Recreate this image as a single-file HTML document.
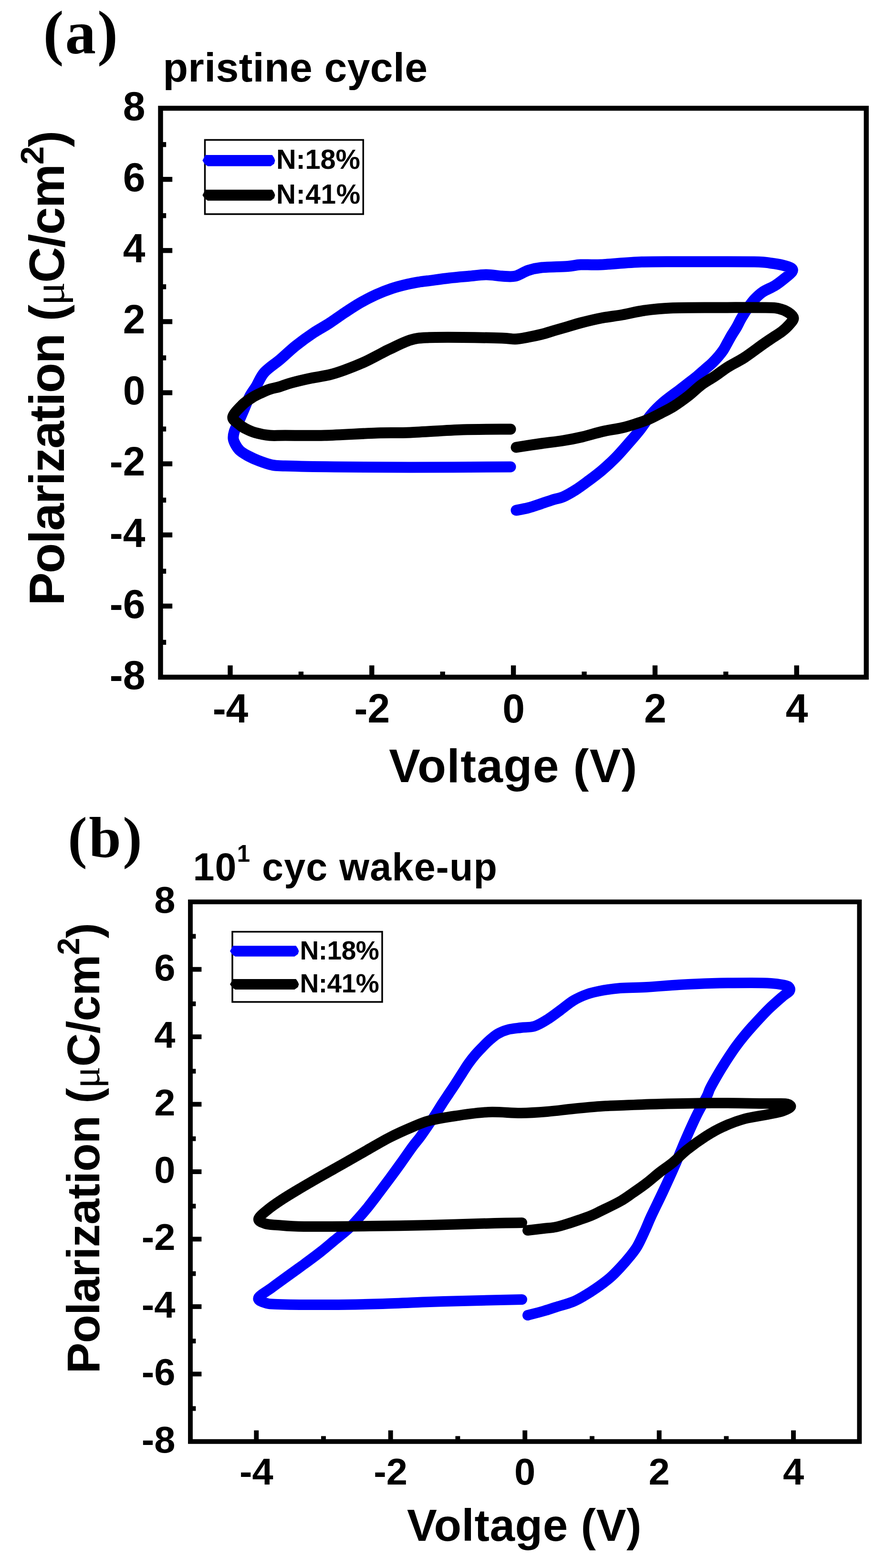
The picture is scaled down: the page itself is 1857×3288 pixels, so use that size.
<!DOCTYPE html>
<html><head><meta charset="utf-8"><title>Polarization vs Voltage</title>
<style>html,body{margin:0;padding:0;background:#fff;width:1857px;height:3288px;overflow:hidden}svg{display:block}</style>
</head><body>
<svg width="1857" height="3288" viewBox="0 0 1857 3288">
<style>.tl{font-family:"Liberation Sans", Arial, sans-serif;font-weight:bold;fill:#000} .sr{font-family:"Liberation Serif", "Times New Roman", serif;font-weight:bold;fill:#000} .mu{font-family:"Liberation Serif", "Times New Roman", serif;font-weight:normal}</style>
<rect width="1857" height="3288" fill="#fff"/>
<rect x="336.5" y="227.0" width="1479.2" height="1193.0" fill="none" stroke="#000" stroke-width="10.4" stroke-linejoin="miter"/>
<line x1="336.5" y1="1346.9" x2="348.2" y2="1346.9" stroke="#000" stroke-width="10.4"/>
<line x1="336.5" y1="1270.9" x2="361.2" y2="1270.9" stroke="#000" stroke-width="10.4"/>
<line x1="336.5" y1="1197.8" x2="348.2" y2="1197.8" stroke="#000" stroke-width="10.4"/>
<line x1="336.5" y1="1121.7" x2="361.2" y2="1121.7" stroke="#000" stroke-width="10.4"/>
<line x1="336.5" y1="1048.7" x2="348.2" y2="1048.7" stroke="#000" stroke-width="10.4"/>
<line x1="336.5" y1="972.6" x2="361.2" y2="972.6" stroke="#000" stroke-width="10.4"/>
<line x1="336.5" y1="899.6" x2="348.2" y2="899.6" stroke="#000" stroke-width="10.4"/>
<line x1="336.5" y1="823.5" x2="361.2" y2="823.5" stroke="#000" stroke-width="10.4"/>
<line x1="336.5" y1="750.4" x2="348.2" y2="750.4" stroke="#000" stroke-width="10.4"/>
<line x1="336.5" y1="674.4" x2="361.2" y2="674.4" stroke="#000" stroke-width="10.4"/>
<line x1="336.5" y1="601.3" x2="348.2" y2="601.3" stroke="#000" stroke-width="10.4"/>
<line x1="336.5" y1="525.3" x2="361.2" y2="525.3" stroke="#000" stroke-width="10.4"/>
<line x1="336.5" y1="452.2" x2="348.2" y2="452.2" stroke="#000" stroke-width="10.4"/>
<line x1="336.5" y1="376.1" x2="361.2" y2="376.1" stroke="#000" stroke-width="10.4"/>
<line x1="336.5" y1="303.1" x2="348.2" y2="303.1" stroke="#000" stroke-width="10.4"/>
<line x1="482.5" y1="1420.0" x2="482.5" y2="1395.3" stroke="#000" stroke-width="10.4"/>
<line x1="630.9" y1="1420.0" x2="630.9" y2="1408.3" stroke="#000" stroke-width="10.4"/>
<line x1="779.3" y1="1420.0" x2="779.3" y2="1395.3" stroke="#000" stroke-width="10.4"/>
<line x1="927.7" y1="1420.0" x2="927.7" y2="1408.3" stroke="#000" stroke-width="10.4"/>
<line x1="1076.1" y1="1420.0" x2="1076.1" y2="1395.3" stroke="#000" stroke-width="10.4"/>
<line x1="1224.5" y1="1420.0" x2="1224.5" y2="1408.3" stroke="#000" stroke-width="10.4"/>
<line x1="1372.9" y1="1420.0" x2="1372.9" y2="1395.3" stroke="#000" stroke-width="10.4"/>
<line x1="1521.3" y1="1420.0" x2="1521.3" y2="1408.3" stroke="#000" stroke-width="10.4"/>
<line x1="1669.7" y1="1420.0" x2="1669.7" y2="1395.3" stroke="#000" stroke-width="10.4"/>
<text transform="translate(304.5,1444.8) scale(1,1.02)" text-anchor="end" class="tl" style="font-size:84px">-8</text>
<text transform="translate(304.5,1295.7) scale(1,1.02)" text-anchor="end" class="tl" style="font-size:84px">-6</text>
<text transform="translate(304.5,1146.5) scale(1,1.02)" text-anchor="end" class="tl" style="font-size:84px">-4</text>
<text transform="translate(304.5,997.4) scale(1,1.02)" text-anchor="end" class="tl" style="font-size:84px">-2</text>
<text transform="translate(304.5,848.3) scale(1,1.02)" text-anchor="end" class="tl" style="font-size:84px">0</text>
<text transform="translate(304.5,699.2) scale(1,1.02)" text-anchor="end" class="tl" style="font-size:84px">2</text>
<text transform="translate(304.5,550.1) scale(1,1.02)" text-anchor="end" class="tl" style="font-size:84px">4</text>
<text transform="translate(304.5,400.9) scale(1,1.02)" text-anchor="end" class="tl" style="font-size:84px">6</text>
<text transform="translate(304.5,251.8) scale(1,1.02)" text-anchor="end" class="tl" style="font-size:84px">8</text>
<text transform="translate(483.0,1514.8) scale(1,1.02)" text-anchor="middle" class="tl" style="font-size:84px">-4</text>
<text transform="translate(779.8,1514.8) scale(1,1.02)" text-anchor="middle" class="tl" style="font-size:84px">-2</text>
<text transform="translate(1076.6,1514.8) scale(1,1.02)" text-anchor="middle" class="tl" style="font-size:84px">0</text>
<text transform="translate(1373.4,1514.8) scale(1,1.02)" text-anchor="middle" class="tl" style="font-size:84px">2</text>
<text transform="translate(1670.2,1514.8) scale(1,1.02)" text-anchor="middle" class="tl" style="font-size:84px">4</text>
<path d="M1082.0,1070.0 C1086.2,1069.2 1098.2,1067.3 1107.0,1065.0 C1115.8,1062.7 1125.8,1059.0 1135.0,1056.0 C1144.2,1053.0 1154.5,1049.3 1162.0,1047.0 C1169.5,1044.7 1172.5,1045.3 1180.0,1042.0 C1187.5,1038.7 1197.8,1032.8 1207.0,1027.0 C1216.2,1021.2 1225.8,1013.8 1235.0,1007.0 C1244.2,1000.2 1252.8,993.8 1262.0,986.0 C1271.2,978.2 1280.8,969.3 1290.0,960.0 C1299.2,950.7 1308.7,939.5 1317.0,930.0 C1325.3,920.5 1332.0,913.2 1340.0,903.0 C1348.0,892.8 1356.5,879.0 1365.0,869.0 C1373.5,859.0 1381.0,851.7 1391.0,843.0 C1401.0,834.3 1416.3,823.7 1425.0,817.0 C1433.7,810.3 1437.0,807.7 1443.0,803.0 C1449.0,798.3 1455.3,793.7 1461.0,789.0 C1466.7,784.3 1471.7,779.7 1477.0,775.0 C1482.3,770.3 1488.2,765.7 1493.0,761.0 C1497.8,756.3 1502.2,751.5 1506.0,747.0 C1509.8,742.5 1512.8,738.8 1516.0,734.0 C1519.2,729.2 1522.0,723.3 1525.0,718.0 C1528.0,712.7 1530.8,707.3 1534.0,702.0 C1537.2,696.7 1540.7,691.8 1544.0,686.0 C1547.3,680.2 1550.0,673.8 1554.0,667.0 C1558.0,660.2 1563.3,651.7 1568.0,645.0 C1572.7,638.3 1576.8,632.5 1582.0,627.0 C1587.2,621.5 1592.0,616.7 1599.0,612.0 C1606.0,607.3 1616.7,603.5 1624.0,599.0 C1631.3,594.5 1637.0,589.8 1643.0,585.0 C1649.0,580.2 1657.5,573.8 1660.0,570.0 C1662.5,566.2 1661.3,564.3 1658.0,562.0 C1654.7,559.7 1646.8,557.7 1640.0,556.0 C1633.2,554.3 1626.8,553.2 1617.0,552.0 C1607.2,550.8 1610.3,549.5 1581.0,549.0 C1551.7,548.5 1480.3,548.7 1441.0,548.7 C1401.7,548.8 1375.2,548.2 1345.0,549.3 C1314.8,550.3 1281.3,554.0 1260.0,555.0 C1238.7,556.0 1228.7,554.4 1217.0,555.0 C1205.3,555.6 1203.7,557.5 1190.0,558.5 C1176.3,559.5 1148.8,559.6 1135.0,561.0 C1121.2,562.4 1116.2,564.0 1107.0,567.0 C1097.8,570.0 1089.2,577.0 1080.0,579.0 C1070.8,581.0 1062.0,579.5 1052.0,579.0 C1042.0,578.5 1031.3,576.0 1020.0,576.0 C1008.7,576.0 997.0,577.8 984.0,579.0 C971.0,580.2 956.7,581.3 942.0,583.0 C927.3,584.7 906.3,587.7 896.0,589.0 C885.7,590.3 887.0,589.8 880.0,591.0 C873.0,592.2 863.8,593.7 854.0,596.0 C844.2,598.3 832.0,601.3 821.0,605.0 C810.0,608.7 799.0,613.0 788.0,618.0 C777.0,623.0 766.0,628.7 755.0,635.0 C744.0,641.3 732.8,648.8 722.0,656.0 C711.2,663.2 700.8,671.0 690.0,678.0 C679.2,685.0 668.7,690.2 657.0,698.0 C645.3,705.8 631.7,715.7 620.0,725.0 C608.3,734.3 598.0,744.7 587.0,754.0 C576.0,763.3 562.3,771.7 554.0,781.0 C545.7,790.3 542.2,801.5 537.0,810.0 C531.8,818.5 527.5,823.3 523.0,832.0 C518.5,840.7 513.8,853.2 510.0,862.0 C506.2,870.8 503.2,877.8 500.0,885.0 C496.8,892.2 492.8,899.2 491.0,905.0 C489.2,910.8 488.5,915.3 489.0,920.0 C489.5,924.7 491.7,928.8 494.0,933.0 C496.3,937.2 498.7,941.2 503.0,945.0 C507.3,948.8 513.5,952.5 520.0,956.0 C526.5,959.5 533.7,962.8 542.0,966.0 C550.3,969.2 560.7,973.2 570.0,975.0 C579.3,976.8 576.3,976.3 598.0,977.0 C619.7,977.7 656.3,978.5 700.0,979.0 C743.7,979.5 798.3,980.0 860.0,980.0 C921.7,980.0 1035.0,979.2 1070.0,979.0" fill="none" stroke="#0000ff" stroke-width="23" stroke-linejoin="round" stroke-linecap="round"/>
<path d="M1082.0,938.0 C1090.8,936.7 1118.7,932.3 1135.0,930.0 C1151.3,927.7 1165.7,926.3 1180.0,924.0 C1194.3,921.7 1207.3,919.2 1221.0,916.0 C1234.7,912.8 1248.2,908.2 1262.0,905.0 C1275.8,901.8 1291.8,899.8 1304.0,897.0 C1316.2,894.2 1325.7,891.0 1335.0,888.0 C1344.3,885.0 1351.5,882.7 1360.0,879.0 C1368.5,875.3 1377.3,870.5 1386.0,866.0 C1394.7,861.5 1402.5,858.0 1412.0,852.0 C1421.5,846.0 1433.3,837.5 1443.0,830.0 C1452.7,822.5 1460.8,813.8 1470.0,807.0 C1479.2,800.2 1488.8,795.2 1498.0,789.0 C1507.2,782.8 1514.7,776.5 1525.0,770.0 C1535.3,763.5 1547.7,758.0 1560.0,750.0 C1572.3,742.0 1589.3,728.8 1599.0,722.0 C1608.7,715.2 1611.3,713.5 1618.0,709.0 C1624.7,704.5 1633.0,699.7 1639.0,695.0 C1645.0,690.3 1650.0,685.7 1654.0,681.0 C1658.0,676.3 1663.3,671.3 1663.0,667.0 C1662.7,662.7 1657.2,658.3 1652.0,655.0 C1646.8,651.7 1639.8,648.7 1632.0,647.0 C1624.2,645.3 1626.7,645.3 1605.0,645.0 C1583.3,644.7 1535.3,644.8 1502.0,645.0 C1468.7,645.2 1430.2,645.0 1405.0,646.0 C1379.8,647.0 1367.7,648.7 1351.0,651.0 C1334.3,653.3 1320.2,657.3 1305.0,660.0 C1289.8,662.7 1274.7,664.2 1260.0,667.0 C1245.3,669.8 1228.7,674.0 1217.0,677.0 C1205.3,680.0 1199.2,682.3 1190.0,685.0 C1180.8,687.7 1171.2,690.3 1162.0,693.0 C1152.8,695.7 1144.2,698.7 1135.0,701.0 C1125.8,703.3 1116.2,705.3 1107.0,707.0 C1097.8,708.7 1089.2,710.7 1080.0,711.0 C1070.8,711.3 1070.3,709.6 1052.0,709.0 C1033.7,708.4 996.0,707.7 970.0,707.5 C944.0,707.3 914.3,707.1 896.0,708.0 C877.7,708.9 873.2,709.0 860.0,713.0 C846.8,717.0 826.2,727.8 817.0,732.0 C807.8,736.2 813.8,733.5 805.0,738.0 C796.2,742.5 777.8,752.7 764.0,759.0 C750.2,765.3 734.3,771.5 722.0,776.0 C709.7,780.5 701.7,783.2 690.0,786.0 C678.3,788.8 665.3,790.2 652.0,793.0 C638.7,795.8 621.0,800.0 610.0,803.0 C599.0,806.0 593.3,808.8 586.0,811.0 C578.7,813.2 572.5,813.8 566.0,816.0 C559.5,818.2 553.3,821.0 547.0,824.0 C540.7,827.0 534.5,829.8 528.0,834.0 C521.5,838.2 514.7,842.3 508.0,849.0 C501.3,855.7 489.3,867.3 488.0,874.0 C486.7,880.7 495.8,885.0 500.0,889.0 C504.2,893.0 507.3,895.0 513.0,898.0 C518.7,901.0 525.3,904.5 534.0,907.0 C542.7,909.5 554.3,912.0 565.0,913.0 C575.7,914.0 578.8,913.0 598.0,913.0 C617.2,913.0 648.0,913.8 680.0,913.0 C712.0,912.2 760.0,909.0 790.0,908.0 C820.0,907.0 830.0,908.2 860.0,907.0 C890.0,905.8 935.0,902.2 970.0,901.0 C1005.0,899.8 1053.3,900.2 1070.0,900.0" fill="none" stroke="#000" stroke-width="23" stroke-linejoin="round" stroke-linecap="round"/>
<rect x="429.5" y="293.4" width="331.8" height="155.6" fill="#fff" stroke="#000" stroke-width="3.5"/>
<polygon points="424.4,336.6 428.4,328.9 430.4,324.9 570.5,324.9 574.5,330.9 576.5,336.6 574.5,343.4 567.5,348.4 435.4,348.4 429.4,344.4" fill="#0000ff"/>
<polygon points="424.4,409.3 428.4,401.8 430.4,397.8 570.5,397.8 574.5,403.8 576.5,409.3 574.5,415.8 567.5,420.8 435.4,420.8 429.4,416.8" fill="#000"/>
<g transform="translate(-33.29,-17.75) scale(1.0519,1.0500)"><text x="582" y="354.5" class="tl" style="font-size:55px;letter-spacing:-0.18px">N:18%</text></g>
<g transform="translate(-22.08,-12.26) scale(1.0327,1.0289)"><text x="582" y="427" class="tl" style="font-size:55px;letter-spacing:0.65px">N:41%</text></g>
<g transform="translate(-4.41,-2.37) scale(1.0091,1.0026)"><text x="94" y="114" class="sr" style="font-size:128px;letter-spacing:2.96px">(a)</text></g>
<g transform="translate(5.08,2.24) scale(0.9778,0.9778)"><text x="344" y="172.5" class="tl" style="font-size:88px;letter-spacing:0.38px">pristine cycle</text></g>
<g transform="translate(16.00,27.67) scale(0.9832,0.9830)"><text x="813" y="1640" class="tl" style="font-size:100px;letter-spacing:1.41px">Voltage (V)</text></g>
<g transform="translate(-5.37,-19.02) scale(1.0207,1.0213)"><text transform="translate(137,1262) rotate(-90)" class="tl" style="font-size:102px;letter-spacing:-1.72px">Polarization (<tspan class="mu" style="font-size:90px">μ</tspan>C/cm<tspan dy="-43" style="font-size:68px">2</tspan><tspan dy="43">)</tspan></text></g>
<rect x="399.0" y="1891.2" width="1402.3" height="1131.6" fill="none" stroke="#000" stroke-width="9.9" stroke-linejoin="miter"/>
<line x1="399.0" y1="2953.6" x2="410.4" y2="2953.6" stroke="#000" stroke-width="9.9"/>
<line x1="399.0" y1="2881.3" x2="422.4" y2="2881.3" stroke="#000" stroke-width="9.9"/>
<line x1="399.0" y1="2812.1" x2="410.4" y2="2812.1" stroke="#000" stroke-width="9.9"/>
<line x1="399.0" y1="2739.9" x2="422.4" y2="2739.9" stroke="#000" stroke-width="9.9"/>
<line x1="399.0" y1="2670.7" x2="410.4" y2="2670.7" stroke="#000" stroke-width="9.9"/>
<line x1="399.0" y1="2598.4" x2="422.4" y2="2598.4" stroke="#000" stroke-width="9.9"/>
<line x1="399.0" y1="2529.2" x2="410.4" y2="2529.2" stroke="#000" stroke-width="9.9"/>
<line x1="399.0" y1="2457.0" x2="422.4" y2="2457.0" stroke="#000" stroke-width="9.9"/>
<line x1="399.0" y1="2387.8" x2="410.4" y2="2387.8" stroke="#000" stroke-width="9.9"/>
<line x1="399.0" y1="2315.6" x2="422.4" y2="2315.6" stroke="#000" stroke-width="9.9"/>
<line x1="399.0" y1="2246.3" x2="410.4" y2="2246.3" stroke="#000" stroke-width="9.9"/>
<line x1="399.0" y1="2174.1" x2="422.4" y2="2174.1" stroke="#000" stroke-width="9.9"/>
<line x1="399.0" y1="2104.9" x2="410.4" y2="2104.9" stroke="#000" stroke-width="9.9"/>
<line x1="399.0" y1="2032.7" x2="422.4" y2="2032.7" stroke="#000" stroke-width="9.9"/>
<line x1="399.0" y1="1963.4" x2="410.4" y2="1963.4" stroke="#000" stroke-width="9.9"/>
<line x1="537.3" y1="3022.8" x2="537.3" y2="2999.4" stroke="#000" stroke-width="9.9"/>
<line x1="678.0" y1="3022.8" x2="678.0" y2="3011.4" stroke="#000" stroke-width="9.9"/>
<line x1="818.7" y1="3022.8" x2="818.7" y2="2999.4" stroke="#000" stroke-width="9.9"/>
<line x1="959.4" y1="3022.8" x2="959.4" y2="3011.4" stroke="#000" stroke-width="9.9"/>
<line x1="1100.2" y1="3022.8" x2="1100.2" y2="2999.4" stroke="#000" stroke-width="9.9"/>
<line x1="1240.9" y1="3022.8" x2="1240.9" y2="3011.4" stroke="#000" stroke-width="9.9"/>
<line x1="1381.6" y1="3022.8" x2="1381.6" y2="2999.4" stroke="#000" stroke-width="9.9"/>
<line x1="1522.3" y1="3022.8" x2="1522.3" y2="3011.4" stroke="#000" stroke-width="9.9"/>
<line x1="1663.0" y1="3022.8" x2="1663.0" y2="2999.4" stroke="#000" stroke-width="9.9"/>
<text transform="translate(367.5,3045.7) scale(1,0.985)" text-anchor="end" class="tl" style="font-size:79.5px">-8</text>
<text transform="translate(367.5,2904.2) scale(1,0.985)" text-anchor="end" class="tl" style="font-size:79.5px">-6</text>
<text transform="translate(367.5,2762.8) scale(1,0.985)" text-anchor="end" class="tl" style="font-size:79.5px">-4</text>
<text transform="translate(367.5,2621.3) scale(1,0.985)" text-anchor="end" class="tl" style="font-size:79.5px">-2</text>
<text transform="translate(367.5,2479.9) scale(1,0.985)" text-anchor="end" class="tl" style="font-size:79.5px">0</text>
<text transform="translate(367.5,2338.5) scale(1,0.985)" text-anchor="end" class="tl" style="font-size:79.5px">2</text>
<text transform="translate(367.5,2197.0) scale(1,0.985)" text-anchor="end" class="tl" style="font-size:79.5px">4</text>
<text transform="translate(367.5,2055.6) scale(1,0.985)" text-anchor="end" class="tl" style="font-size:79.5px">6</text>
<text transform="translate(367.5,1914.1) scale(1,0.985)" text-anchor="end" class="tl" style="font-size:79.5px">8</text>
<text transform="translate(537.3,3112.8) scale(1,0.985)" text-anchor="middle" class="tl" style="font-size:79.5px">-4</text>
<text transform="translate(818.7,3112.8) scale(1,0.985)" text-anchor="middle" class="tl" style="font-size:79.5px">-2</text>
<text transform="translate(1100.2,3112.8) scale(1,0.985)" text-anchor="middle" class="tl" style="font-size:79.5px">0</text>
<text transform="translate(1381.6,3112.8) scale(1,0.985)" text-anchor="middle" class="tl" style="font-size:79.5px">2</text>
<text transform="translate(1663.0,3112.8) scale(1,0.985)" text-anchor="middle" class="tl" style="font-size:79.5px">4</text>
<path d="M1106.0,2758.0 C1111.7,2756.5 1130.2,2751.8 1140.0,2749.0 C1149.8,2746.2 1155.0,2744.2 1165.0,2741.0 C1175.0,2737.8 1190.0,2734.0 1200.0,2730.0 C1210.0,2726.0 1216.7,2721.8 1225.0,2717.0 C1233.3,2712.2 1241.0,2707.3 1250.0,2701.0 C1259.0,2694.7 1270.7,2686.2 1279.0,2679.0 C1287.3,2671.8 1293.2,2665.3 1300.0,2658.0 C1306.8,2650.7 1314.0,2642.5 1320.0,2635.0 C1326.0,2627.5 1330.7,2622.2 1336.0,2613.0 C1341.3,2603.8 1347.2,2590.5 1352.0,2580.0 C1356.8,2569.5 1358.8,2563.3 1365.0,2550.0 C1371.2,2536.7 1380.8,2517.5 1389.0,2500.0 C1397.2,2482.5 1406.2,2463.0 1414.0,2445.0 C1421.8,2427.0 1428.2,2410.0 1436.0,2392.0 C1443.8,2374.0 1453.5,2352.3 1461.0,2337.0 C1468.5,2321.7 1476.5,2309.0 1481.0,2300.0 C1485.5,2291.0 1484.8,2289.5 1488.0,2283.0 C1491.2,2276.5 1495.8,2268.3 1500.0,2261.0 C1504.2,2253.7 1508.5,2246.3 1513.0,2239.0 C1517.5,2231.7 1522.2,2224.3 1527.0,2217.0 C1531.8,2209.7 1536.7,2202.3 1542.0,2195.0 C1547.3,2187.7 1553.0,2180.3 1559.0,2173.0 C1565.0,2165.7 1569.3,2160.5 1578.0,2151.0 C1586.7,2141.5 1600.5,2126.3 1611.0,2116.0 C1621.5,2105.7 1633.7,2095.3 1641.0,2089.0 C1648.3,2082.7 1653.0,2081.3 1655.0,2078.0 C1657.0,2074.7 1655.5,2071.2 1653.0,2069.0 C1650.5,2066.8 1646.2,2066.2 1640.0,2065.0 C1633.8,2063.8 1626.8,2062.7 1616.0,2062.0 C1605.2,2061.3 1595.7,2061.0 1575.0,2061.0 C1554.3,2061.0 1517.2,2061.3 1492.0,2062.0 C1466.8,2062.7 1446.8,2063.7 1424.0,2065.0 C1401.2,2066.3 1375.7,2068.8 1355.0,2070.0 C1334.3,2071.2 1316.3,2070.7 1300.0,2072.0 C1283.7,2073.3 1268.7,2075.8 1257.0,2078.0 C1245.3,2080.2 1239.2,2081.7 1230.0,2085.0 C1220.8,2088.3 1211.2,2092.5 1202.0,2098.0 C1192.8,2103.5 1184.2,2111.3 1175.0,2118.0 C1165.8,2124.7 1156.2,2132.3 1147.0,2138.0 C1137.8,2143.7 1129.2,2149.2 1120.0,2152.0 C1110.8,2154.8 1101.2,2153.8 1092.0,2155.0 C1082.8,2156.2 1073.2,2156.8 1065.0,2159.0 C1056.8,2161.2 1049.8,2164.0 1043.0,2168.0 C1036.2,2172.0 1029.5,2178.2 1024.0,2183.0 C1018.5,2187.8 1014.7,2192.2 1010.0,2197.0 C1005.3,2201.8 1000.7,2206.5 996.0,2212.0 C991.3,2217.5 986.5,2223.7 982.0,2230.0 C977.5,2236.3 973.5,2243.0 969.0,2250.0 C964.5,2257.0 959.7,2264.8 955.0,2272.0 C950.3,2279.2 945.7,2286.0 941.0,2293.0 C936.3,2300.0 931.8,2306.5 927.0,2314.0 C922.2,2321.5 917.2,2330.0 912.0,2338.0 C906.8,2346.0 901.3,2354.2 896.0,2362.0 C890.7,2369.8 885.2,2378.0 880.0,2385.0 C874.8,2392.0 871.5,2395.2 865.0,2404.0 C858.5,2412.8 849.0,2426.8 841.0,2438.0 C833.0,2449.2 825.0,2460.2 817.0,2471.0 C809.0,2481.8 801.0,2492.5 793.0,2503.0 C785.0,2513.5 776.2,2525.2 769.0,2534.0 C761.8,2542.8 756.5,2548.8 750.0,2556.0 C743.5,2563.2 738.2,2569.5 730.0,2577.0 C721.8,2584.5 710.7,2593.0 701.0,2601.0 C691.3,2609.0 682.8,2616.5 672.0,2625.0 C661.2,2633.5 648.0,2643.2 636.0,2652.0 C624.0,2660.8 611.0,2670.0 600.0,2678.0 C589.0,2686.0 579.7,2692.8 570.0,2700.0 C560.3,2707.2 544.8,2715.8 542.0,2721.0 C539.2,2726.2 546.3,2728.7 553.0,2731.0 C559.7,2733.3 558.8,2734.2 582.0,2735.0 C605.2,2735.8 655.3,2736.2 692.0,2736.0 C728.7,2735.8 767.3,2735.0 802.0,2734.0 C836.7,2733.0 872.2,2731.0 900.0,2730.0 C927.8,2729.0 936.7,2728.8 969.0,2728.0 C1001.3,2727.2 1073.2,2725.5 1094.0,2725.0" fill="none" stroke="#0000ff" stroke-width="22" stroke-linejoin="round" stroke-linecap="round"/>
<path d="M1106.0,2580.0 C1111.7,2579.3 1130.2,2577.2 1140.0,2576.0 C1149.8,2574.8 1156.7,2574.7 1165.0,2573.0 C1173.3,2571.3 1181.8,2568.5 1190.0,2566.0 C1198.2,2563.5 1205.8,2560.8 1214.0,2558.0 C1222.2,2555.2 1231.3,2552.2 1239.0,2549.0 C1246.7,2545.8 1249.8,2544.0 1260.0,2539.0 C1270.2,2534.0 1288.8,2525.3 1300.0,2519.0 C1311.2,2512.7 1317.8,2507.3 1327.0,2501.0 C1336.2,2494.7 1345.7,2488.2 1355.0,2481.0 C1364.3,2473.8 1373.8,2465.2 1383.0,2458.0 C1392.2,2450.8 1400.5,2445.8 1410.0,2438.0 C1419.5,2430.2 1428.5,2420.2 1440.0,2411.0 C1451.5,2401.8 1466.5,2391.0 1479.0,2383.0 C1491.5,2375.0 1501.3,2369.2 1515.0,2363.0 C1528.7,2356.8 1545.3,2350.3 1561.0,2346.0 C1576.7,2341.7 1595.8,2339.7 1609.0,2337.0 C1622.2,2334.3 1632.0,2332.7 1640.0,2330.0 C1648.0,2327.3 1655.3,2323.5 1657.0,2321.0 C1658.7,2318.5 1654.5,2316.2 1650.0,2315.0 C1645.5,2313.8 1638.0,2314.2 1630.0,2314.0 C1622.0,2313.8 1625.0,2314.2 1602.0,2314.0 C1579.0,2313.8 1528.7,2312.8 1492.0,2313.0 C1455.3,2313.2 1414.0,2314.2 1382.0,2315.0 C1350.0,2315.8 1320.8,2317.2 1300.0,2318.0 C1279.2,2318.8 1273.3,2318.8 1257.0,2320.0 C1240.7,2321.2 1220.3,2323.2 1202.0,2325.0 C1183.7,2326.8 1165.3,2329.5 1147.0,2331.0 C1128.7,2332.5 1112.5,2333.8 1092.0,2334.0 C1071.5,2334.2 1046.8,2331.0 1024.0,2332.0 C1001.2,2333.0 975.7,2337.0 955.0,2340.0 C934.3,2343.0 915.0,2346.2 900.0,2350.0 C885.0,2353.8 878.8,2357.2 865.0,2363.0 C851.2,2368.8 833.0,2376.8 817.0,2385.0 C801.0,2393.2 785.2,2402.8 769.0,2412.0 C752.8,2421.2 736.2,2430.8 720.0,2440.0 C703.8,2449.2 688.0,2457.8 672.0,2467.0 C656.0,2476.2 637.7,2486.8 624.0,2495.0 C610.3,2503.2 600.3,2509.2 590.0,2516.0 C579.7,2522.8 570.0,2529.3 562.0,2536.0 C554.0,2542.7 543.0,2551.0 542.0,2556.0 C541.0,2561.0 549.3,2563.8 556.0,2566.0 C562.7,2568.2 568.5,2568.0 582.0,2569.0 C595.5,2570.0 604.8,2571.7 637.0,2572.0 C669.2,2572.3 731.2,2571.5 775.0,2571.0 C818.8,2570.5 856.3,2570.0 900.0,2569.0 C943.7,2568.0 1004.7,2565.8 1037.0,2565.0 C1069.3,2564.2 1084.5,2564.2 1094.0,2564.0" fill="none" stroke="#000" stroke-width="22" stroke-linejoin="round" stroke-linecap="round"/>
<rect x="487" y="1953.8" width="314" height="147.2" fill="#fff" stroke="#000" stroke-width="3.5"/>
<polygon points="482.0,1994.4 486.0,1987.2 488.0,1983.2 620.4,1983.2 624.4,1989.2 626.4,1994.4 624.4,2000.7 617.4,2005.7 493.0,2005.7 487.0,2001.7" fill="#0000ff"/>
<polygon points="482.0,2063.9 486.0,2056.9 488.0,2052.9 620.4,2052.9 624.4,2058.9 626.4,2063.9 624.4,2069.9 617.4,2074.9 493.0,2074.9 487.0,2070.9" fill="#000"/>
<g transform="translate(-29.25,-81.37) scale(1.0406,1.0405)"><text x="632" y="2012" class="tl" style="font-size:53px;letter-spacing:-0.5px">N:18%</text></g>
<g transform="translate(-29.25,-84.36) scale(1.0406,1.0405)"><text x="632" y="2081" class="tl" style="font-size:53px;letter-spacing:-0.5px">N:41%</text></g>
<g transform="translate(0.24,38.32) scale(0.9797,0.9788)"><text x="145" y="1797" class="sr" style="font-size:124px;letter-spacing:3.57px">(b)</text></g>
<g transform="translate(4.03,24.95) scale(0.9861,0.9859)"><text x="406" y="1847.5" class="tl" style="font-size:82px;letter-spacing:1.22px">10<tspan dy="-40" style="font-size:50px">1</tspan><tspan dy="40"> cyc wake-up</tspan></text></g>
<g transform="translate(25.24,80.93) scale(0.9726,0.9744)"><text x="851" y="3232.5" class="tl" style="font-size:97px;letter-spacing:0.61px">Voltage (V)</text></g>
<g transform="translate(-3.20,-30.04) scale(1.0123,1.0130)"><text transform="translate(208.3,2873) rotate(-90)" class="tl" style="font-size:96px;letter-spacing:-0.87px">Polarization (<tspan class="mu" style="font-size:85px">μ</tspan>C/cm<tspan dy="-41" style="font-size:64px">2</tspan><tspan dy="41">)</tspan></text></g>
</svg>
</body></html>
